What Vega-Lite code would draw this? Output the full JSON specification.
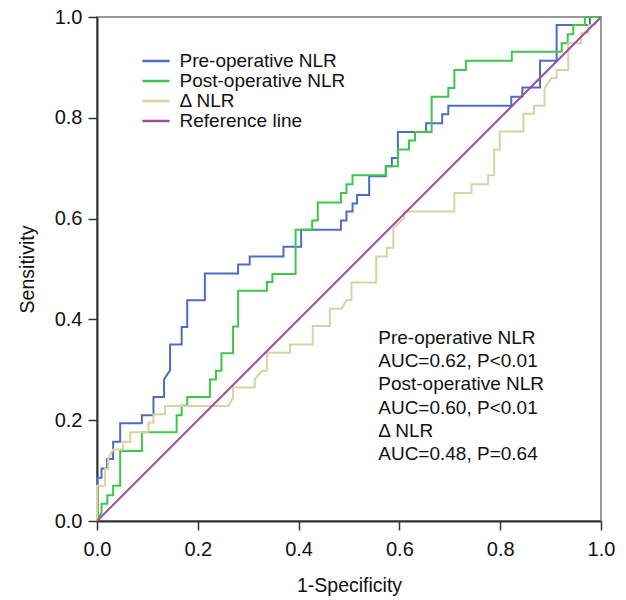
{
"$schema": "https://vega.github.io/schema/vega-lite/v6.json",
"width": 504, "height": 504,
"autosize": {"type": "none"},
"padding": {"left": 97, "top": 17, "right": 25, "bottom": 79},
"background": "white",
"config": {
  "font": "Liberation Sans",
  "view": {"stroke": "#999999", "strokeWidth": 2},
  "axis": {"grid": false, "domainColor": "#333333", "domainWidth": 2, "tickColor": "#333333", "tickWidth": 1.5, "tickSize": 9, "labelFlush": false,
           "labelFont": "Liberation Sans", "labelFontSize": 20, "labelColor": "#111111", "titleFont": "Liberation Sans", "titleFontSize": 19.5, "titleFontWeight": "normal", "titleColor": "#111111"}
},
"data": {"values": [
{"s":"Pre-operative NLR","i":1,"x":0,"y":0},
{"s":"Pre-operative NLR","i":2,"x":0,"y":0.086},
{"s":"Pre-operative NLR","i":3,"x":0.009,"y":0.086},
{"s":"Pre-operative NLR","i":4,"x":0.009,"y":0.104},
{"s":"Pre-operative NLR","i":5,"x":0.020,"y":0.104},
{"s":"Pre-operative NLR","i":6,"x":0.020,"y":0.123},
{"s":"Pre-operative NLR","i":7,"x":0.032,"y":0.123},
{"s":"Pre-operative NLR","i":8,"x":0.032,"y":0.157},
{"s":"Pre-operative NLR","i":9,"x":0.046,"y":0.157},
{"s":"Pre-operative NLR","i":10,"x":0.046,"y":0.194},
{"s":"Pre-operative NLR","i":11,"x":0.089,"y":0.194},
{"s":"Pre-operative NLR","i":12,"x":0.089,"y":0.210},
{"s":"Pre-operative NLR","i":13,"x":0.112,"y":0.210},
{"s":"Pre-operative NLR","i":14,"x":0.112,"y":0.246},
{"s":"Pre-operative NLR","i":15,"x":0.133,"y":0.246},
{"s":"Pre-operative NLR","i":16,"x":0.133,"y":0.281},
{"s":"Pre-operative NLR","i":17,"x":0.145,"y":0.299},
{"s":"Pre-operative NLR","i":18,"x":0.145,"y":0.350},
{"s":"Pre-operative NLR","i":19,"x":0.168,"y":0.350},
{"s":"Pre-operative NLR","i":20,"x":0.168,"y":0.385},
{"s":"Pre-operative NLR","i":21,"x":0.179,"y":0.385},
{"s":"Pre-operative NLR","i":22,"x":0.179,"y":0.438},
{"s":"Pre-operative NLR","i":23,"x":0.214,"y":0.438},
{"s":"Pre-operative NLR","i":24,"x":0.214,"y":0.491},
{"s":"Pre-operative NLR","i":25,"x":0.280,"y":0.491},
{"s":"Pre-operative NLR","i":26,"x":0.280,"y":0.509},
{"s":"Pre-operative NLR","i":27,"x":0.303,"y":0.509},
{"s":"Pre-operative NLR","i":28,"x":0.303,"y":0.525},
{"s":"Pre-operative NLR","i":29,"x":0.370,"y":0.525},
{"s":"Pre-operative NLR","i":30,"x":0.370,"y":0.544},
{"s":"Pre-operative NLR","i":31,"x":0.405,"y":0.544},
{"s":"Pre-operative NLR","i":32,"x":0.405,"y":0.578},
{"s":"Pre-operative NLR","i":33,"x":0.484,"y":0.578},
{"s":"Pre-operative NLR","i":34,"x":0.484,"y":0.596},
{"s":"Pre-operative NLR","i":35,"x":0.495,"y":0.596},
{"s":"Pre-operative NLR","i":36,"x":0.495,"y":0.614},
{"s":"Pre-operative NLR","i":37,"x":0.507,"y":0.614},
{"s":"Pre-operative NLR","i":38,"x":0.507,"y":0.630},
{"s":"Pre-operative NLR","i":39,"x":0.516,"y":0.630},
{"s":"Pre-operative NLR","i":40,"x":0.516,"y":0.647},
{"s":"Pre-operative NLR","i":41,"x":0.540,"y":0.647},
{"s":"Pre-operative NLR","i":42,"x":0.540,"y":0.684},
{"s":"Pre-operative NLR","i":43,"x":0.573,"y":0.684},
{"s":"Pre-operative NLR","i":44,"x":0.573,"y":0.704},
{"s":"Pre-operative NLR","i":45,"x":0.585,"y":0.704},
{"s":"Pre-operative NLR","i":46,"x":0.585,"y":0.720},
{"s":"Pre-operative NLR","i":47,"x":0.597,"y":0.720},
{"s":"Pre-operative NLR","i":48,"x":0.597,"y":0.772},
{"s":"Pre-operative NLR","i":49,"x":0.653,"y":0.772},
{"s":"Pre-operative NLR","i":50,"x":0.653,"y":0.789},
{"s":"Pre-operative NLR","i":51,"x":0.685,"y":0.789},
{"s":"Pre-operative NLR","i":52,"x":0.685,"y":0.807},
{"s":"Pre-operative NLR","i":53,"x":0.697,"y":0.807},
{"s":"Pre-operative NLR","i":54,"x":0.697,"y":0.824},
{"s":"Pre-operative NLR","i":55,"x":0.822,"y":0.824},
{"s":"Pre-operative NLR","i":56,"x":0.822,"y":0.842},
{"s":"Pre-operative NLR","i":57,"x":0.844,"y":0.842},
{"s":"Pre-operative NLR","i":58,"x":0.844,"y":0.860},
{"s":"Pre-operative NLR","i":59,"x":0.879,"y":0.860},
{"s":"Pre-operative NLR","i":60,"x":0.879,"y":0.913},
{"s":"Pre-operative NLR","i":61,"x":0.912,"y":0.913},
{"s":"Pre-operative NLR","i":62,"x":0.912,"y":0.984},
{"s":"Pre-operative NLR","i":63,"x":0.978,"y":0.984},
{"s":"Pre-operative NLR","i":64,"x":0.978,"y":1.0},
{"s":"Pre-operative NLR","i":65,"x":1,"y":1},
{"s":"Post-operative NLR","i":1,"x":0,"y":0},
{"s":"Post-operative NLR","i":2,"x":0.009,"y":0.017},
{"s":"Post-operative NLR","i":3,"x":0.009,"y":0.034},
{"s":"Post-operative NLR","i":4,"x":0.0205,"y":0.034},
{"s":"Post-operative NLR","i":5,"x":0.0205,"y":0.051},
{"s":"Post-operative NLR","i":6,"x":0.032,"y":0.051},
{"s":"Post-operative NLR","i":7,"x":0.032,"y":0.070},
{"s":"Post-operative NLR","i":8,"x":0.046,"y":0.070},
{"s":"Post-operative NLR","i":9,"x":0.046,"y":0.139},
{"s":"Post-operative NLR","i":10,"x":0.089,"y":0.139},
{"s":"Post-operative NLR","i":11,"x":0.089,"y":0.176},
{"s":"Post-operative NLR","i":12,"x":0.158,"y":0.176},
{"s":"Post-operative NLR","i":13,"x":0.158,"y":0.210},
{"s":"Post-operative NLR","i":14,"x":0.168,"y":0.210},
{"s":"Post-operative NLR","i":15,"x":0.168,"y":0.229},
{"s":"Post-operative NLR","i":16,"x":0.179,"y":0.229},
{"s":"Post-operative NLR","i":17,"x":0.179,"y":0.246},
{"s":"Post-operative NLR","i":18,"x":0.224,"y":0.246},
{"s":"Post-operative NLR","i":19,"x":0.224,"y":0.281},
{"s":"Post-operative NLR","i":20,"x":0.236,"y":0.281},
{"s":"Post-operative NLR","i":21,"x":0.236,"y":0.298},
{"s":"Post-operative NLR","i":22,"x":0.247,"y":0.298},
{"s":"Post-operative NLR","i":23,"x":0.247,"y":0.333},
{"s":"Post-operative NLR","i":24,"x":0.270,"y":0.333},
{"s":"Post-operative NLR","i":25,"x":0.270,"y":0.386},
{"s":"Post-operative NLR","i":26,"x":0.280,"y":0.386},
{"s":"Post-operative NLR","i":27,"x":0.280,"y":0.457},
{"s":"Post-operative NLR","i":28,"x":0.337,"y":0.457},
{"s":"Post-operative NLR","i":29,"x":0.337,"y":0.474},
{"s":"Post-operative NLR","i":30,"x":0.348,"y":0.474},
{"s":"Post-operative NLR","i":31,"x":0.348,"y":0.490},
{"s":"Post-operative NLR","i":32,"x":0.394,"y":0.490},
{"s":"Post-operative NLR","i":33,"x":0.394,"y":0.578},
{"s":"Post-operative NLR","i":34,"x":0.427,"y":0.578},
{"s":"Post-operative NLR","i":35,"x":0.427,"y":0.596},
{"s":"Post-operative NLR","i":36,"x":0.438,"y":0.596},
{"s":"Post-operative NLR","i":37,"x":0.438,"y":0.632},
{"s":"Post-operative NLR","i":38,"x":0.484,"y":0.632},
{"s":"Post-operative NLR","i":39,"x":0.484,"y":0.651},
{"s":"Post-operative NLR","i":40,"x":0.495,"y":0.651},
{"s":"Post-operative NLR","i":41,"x":0.495,"y":0.668},
{"s":"Post-operative NLR","i":42,"x":0.507,"y":0.668},
{"s":"Post-operative NLR","i":43,"x":0.507,"y":0.686},
{"s":"Post-operative NLR","i":44,"x":0.573,"y":0.686},
{"s":"Post-operative NLR","i":45,"x":0.573,"y":0.704},
{"s":"Post-operative NLR","i":46,"x":0.597,"y":0.704},
{"s":"Post-operative NLR","i":47,"x":0.597,"y":0.737},
{"s":"Post-operative NLR","i":48,"x":0.619,"y":0.737},
{"s":"Post-operative NLR","i":49,"x":0.619,"y":0.755},
{"s":"Post-operative NLR","i":50,"x":0.631,"y":0.755},
{"s":"Post-operative NLR","i":51,"x":0.631,"y":0.772},
{"s":"Post-operative NLR","i":52,"x":0.664,"y":0.772},
{"s":"Post-operative NLR","i":53,"x":0.664,"y":0.842},
{"s":"Post-operative NLR","i":54,"x":0.697,"y":0.842},
{"s":"Post-operative NLR","i":55,"x":0.697,"y":0.859},
{"s":"Post-operative NLR","i":56,"x":0.709,"y":0.859},
{"s":"Post-operative NLR","i":57,"x":0.709,"y":0.895},
{"s":"Post-operative NLR","i":58,"x":0.732,"y":0.895},
{"s":"Post-operative NLR","i":59,"x":0.732,"y":0.913},
{"s":"Post-operative NLR","i":60,"x":0.823,"y":0.913},
{"s":"Post-operative NLR","i":61,"x":0.823,"y":0.931},
{"s":"Post-operative NLR","i":62,"x":0.922,"y":0.931},
{"s":"Post-operative NLR","i":63,"x":0.922,"y":0.948},
{"s":"Post-operative NLR","i":64,"x":0.934,"y":0.948},
{"s":"Post-operative NLR","i":65,"x":0.934,"y":0.966},
{"s":"Post-operative NLR","i":66,"x":0.945,"y":0.966},
{"s":"Post-operative NLR","i":67,"x":0.945,"y":0.984},
{"s":"Post-operative NLR","i":68,"x":0.968,"y":0.984},
{"s":"Post-operative NLR","i":69,"x":0.968,"y":1.0},
{"s":"Post-operative NLR","i":70,"x":1,"y":1},
{"s":"Δ NLR","i":1,"x":0,"y":0},
{"s":"Δ NLR","i":2,"x":0,"y":0.070},
{"s":"Δ NLR","i":3,"x":0.016,"y":0.070},
{"s":"Δ NLR","i":4,"x":0.016,"y":0.103},
{"s":"Δ NLR","i":5,"x":0.022,"y":0.103},
{"s":"Δ NLR","i":6,"x":0.022,"y":0.123},
{"s":"Δ NLR","i":7,"x":0.032,"y":0.142},
{"s":"Δ NLR","i":8,"x":0.052,"y":0.142},
{"s":"Δ NLR","i":9,"x":0.052,"y":0.157},
{"s":"Δ NLR","i":10,"x":0.066,"y":0.157},
{"s":"Δ NLR","i":11,"x":0.066,"y":0.176},
{"s":"Δ NLR","i":12,"x":0.102,"y":0.176},
{"s":"Δ NLR","i":13,"x":0.102,"y":0.195},
{"s":"Δ NLR","i":14,"x":0.112,"y":0.195},
{"s":"Δ NLR","i":15,"x":0.112,"y":0.212},
{"s":"Δ NLR","i":16,"x":0.135,"y":0.212},
{"s":"Δ NLR","i":17,"x":0.135,"y":0.228},
{"s":"Δ NLR","i":18,"x":0.261,"y":0.228},
{"s":"Δ NLR","i":19,"x":0.270,"y":0.245},
{"s":"Δ NLR","i":20,"x":0.270,"y":0.265},
{"s":"Δ NLR","i":21,"x":0.313,"y":0.265},
{"s":"Δ NLR","i":22,"x":0.313,"y":0.281},
{"s":"Δ NLR","i":23,"x":0.327,"y":0.298},
{"s":"Δ NLR","i":24,"x":0.337,"y":0.298},
{"s":"Δ NLR","i":25,"x":0.337,"y":0.334},
{"s":"Δ NLR","i":26,"x":0.383,"y":0.334},
{"s":"Δ NLR","i":27,"x":0.383,"y":0.350},
{"s":"Δ NLR","i":28,"x":0.428,"y":0.350},
{"s":"Δ NLR","i":29,"x":0.428,"y":0.387},
{"s":"Δ NLR","i":30,"x":0.462,"y":0.387},
{"s":"Δ NLR","i":31,"x":0.462,"y":0.421},
{"s":"Δ NLR","i":32,"x":0.485,"y":0.421},
{"s":"Δ NLR","i":33,"x":0.495,"y":0.438},
{"s":"Δ NLR","i":34,"x":0.505,"y":0.438},
{"s":"Δ NLR","i":35,"x":0.505,"y":0.473},
{"s":"Δ NLR","i":36,"x":0.554,"y":0.473},
{"s":"Δ NLR","i":37,"x":0.554,"y":0.525},
{"s":"Δ NLR","i":38,"x":0.575,"y":0.525},
{"s":"Δ NLR","i":39,"x":0.575,"y":0.542},
{"s":"Δ NLR","i":40,"x":0.588,"y":0.542},
{"s":"Δ NLR","i":41,"x":0.588,"y":0.581},
{"s":"Δ NLR","i":42,"x":0.609,"y":0.601},
{"s":"Δ NLR","i":43,"x":0.609,"y":0.614},
{"s":"Δ NLR","i":44,"x":0.709,"y":0.614},
{"s":"Δ NLR","i":45,"x":0.709,"y":0.651},
{"s":"Δ NLR","i":46,"x":0.743,"y":0.651},
{"s":"Δ NLR","i":47,"x":0.743,"y":0.668},
{"s":"Δ NLR","i":48,"x":0.776,"y":0.668},
{"s":"Δ NLR","i":49,"x":0.776,"y":0.686},
{"s":"Δ NLR","i":50,"x":0.788,"y":0.686},
{"s":"Δ NLR","i":51,"x":0.788,"y":0.737},
{"s":"Δ NLR","i":52,"x":0.799,"y":0.737},
{"s":"Δ NLR","i":53,"x":0.799,"y":0.773},
{"s":"Δ NLR","i":54,"x":0.846,"y":0.773},
{"s":"Δ NLR","i":55,"x":0.846,"y":0.808},
{"s":"Δ NLR","i":56,"x":0.867,"y":0.808},
{"s":"Δ NLR","i":57,"x":0.867,"y":0.824},
{"s":"Δ NLR","i":58,"x":0.888,"y":0.824},
{"s":"Δ NLR","i":59,"x":0.888,"y":0.859},
{"s":"Δ NLR","i":60,"x":0.902,"y":0.879},
{"s":"Δ NLR","i":61,"x":0.912,"y":0.879},
{"s":"Δ NLR","i":62,"x":0.912,"y":0.895},
{"s":"Δ NLR","i":63,"x":0.935,"y":0.895},
{"s":"Δ NLR","i":64,"x":0.935,"y":0.948},
{"s":"Δ NLR","i":65,"x":0.961,"y":0.948},
{"s":"Δ NLR","i":66,"x":0.961,"y":0.968},
{"s":"Δ NLR","i":67,"x":0.975,"y":0.968},
{"s":"Δ NLR","i":68,"x":0.975,"y":0.984},
{"s":"Δ NLR","i":69,"x":0.988,"y":0.984},
{"s":"Δ NLR","i":70,"x":1,"y":1},
{"s":"Reference line","i":1,"x":0,"y":0},
{"s":"Reference line","i":2,"x":1,"y":1}
]},
"layer": [
  {
    "mark": {"type": "line", "strokeWidth": 2, "interpolate": "linear"},
    "encoding": {
      "x": {"field": "x", "type": "quantitative", "scale": {"domain": [0, 1], "nice": false, "zero": false}, "axis": {"title": "1-Specificity", "values": [0, 0.2, 0.4, 0.6, 0.8, 1.0], "format": ".1f", "labelPadding": 9, "titlePadding": 17}},
      "y": {"field": "y", "type": "quantitative", "scale": {"domain": [0, 1], "nice": false, "zero": false}, "axis": {"title": "Sensitivity", "values": [0, 0.2, 0.4, 0.6, 0.8, 1.0], "format": ".1f", "labelPadding": 6, "titlePadding": 17}},
      "color": {"field": "s", "type": "nominal",
        "scale": {"domain": ["Pre-operative NLR", "Post-operative NLR", "Δ NLR", "Reference line"], "range": ["#4e6cc4", "#3ec64c", "#d9d3a2", "#9c4fa0"]},
        "legend": {"title": null, "orient": "none", "legendX": 49.5, "legendY": 34.5, "padding": 0, "symbolType": "M-1.7,0H1.7", "symbolSize": 256, "symbolStrokeWidth": 2.5, "labelFontSize": 19, "labelFont": "Liberation Sans", "labelColor": "#111111", "labelOffset": 14, "labelLimit": 0, "rowPadding": 0}},
      "order": {"field": "i", "type": "quantitative"}
    }
  },
  {
    "data": {"values": [{}]},
    "mark": {"type": "text", "align": "left", "baseline": "top", "fontSize": 19, "font": "Liberation Sans", "color": "#111111", "lineHeight": 23.2},
    "encoding": {
      "x": {"datum": 0.558, "type": "quantitative"},
      "y": {"datum": 0.381, "type": "quantitative"},
      "text": {"value": ["Pre-operative NLR", "AUC=0.62, P<0.01", "Post-operative NLR", "AUC=0.60, P<0.01", "Δ NLR", "AUC=0.48, P=0.64"]}
    }
  }
]
}
